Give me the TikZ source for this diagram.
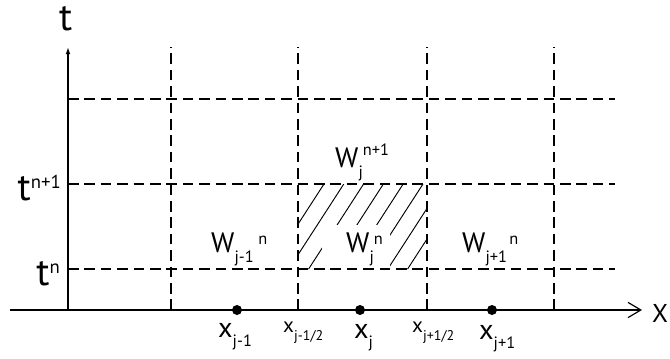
\documentclass[tikz,border=0pt]{standalone}
\usepackage{fontspec}
\setmainfont{PT Sans}
\usetikzlibrary{arrows.meta}
% scripts set beside the main letter
\newcommand{\lowtxt}[2][9pt]{\raisebox{-#1}{\fontsize{14}{16}\selectfont #2}}
\newcommand{\hightxt}[2][6pt]{\raisebox{#1}{\fontsize{14}{16}\selectfont #2}}
\newcommand{\tsup}[1]{\raisebox{10pt}{\fontsize{16}{18}\selectfont #1}}
\begin{document}
\begin{tikzpicture}[x=0.03cm,y=0.03cm,
  grid/.style={dash pattern=on 9pt off 5pt,line width=1.1pt},
  axis/.style={line width=1.4pt},
  hatch/.style={line width=0.8pt},
  dot/.style={circle,fill,inner sep=0pt,minimum size=0.3cm},
  lbl/.style={anchor=base west,inner sep=0pt,font=\fontsize{24}{28}\selectfont},
  big/.style={inner sep=0pt,font=\fontsize{33}{36}\selectfont}]
\useasboundingbox (0,0) rectangle (670,358);
% hatched cell
\begin{scope}
\clip (298,89) rectangle (427,174);
\foreach \k in {0,...,7}
  \draw[hatch] ({269+19.8*\k},89) -- ({324+19.8*\k},174);
\end{scope}
\fill[white] (322,89) rectangle (390,133);
% grid
\foreach \x in {171,298,427,554} \draw[grid] (\x,48) -- (\x,311);
\foreach \y in {89,174,259} \draw[grid] (68,\y) -- (615,\y);
% axes
\coordinate (xs) at (10,48);
\coordinate (xe) at (642,48);
\coordinate (o) at (68,48);
\coordinate (ye) at (68,311);
\draw[axis,-{Straight Barb[length=11pt,width=13pt,line width=1pt]}] (xs) -- (xe);
\draw[axis,-{Latex[length=6pt,width=4pt]}] (o) -- (ye);
\node[big,anchor=base west] (tlab) at (59,327) {t};
\node[lbl,font=\fontsize{22}{26}\selectfont] (xlab) at (652,36) {X};
\node[big,anchor=base east] (tnp) at (61,158) {t\tsup{n+1}};
\node[big,anchor=base east] (tn) at (60,73) {t\tsup{n}};
% cell centres and faces
\node[dot] (pjm) at (237,48) {};
\node[dot] (pj) at (360,48) {};
\node[dot] (pjp) at (492,48) {};
\node[lbl] (xjm) at (218,21) {x\lowtxt[8pt]{j-1}};
\node[lbl] (xj) at (354,20) {x\lowtxt[8pt]{j}};
\node[lbl] (xjp) at (479,19) {x\lowtxt[8pt]{j+1}};
\node[lbl,font=\fontsize{18}{21}\selectfont] (xhm) at (283,26) {x\lowtxt[7pt]{\fontsize{12}{14}\selectfont j-1/2}};
\node[lbl,font=\fontsize{18}{21}\selectfont] (xhp) at (412,26) {x\lowtxt[7pt]{\fontsize{12}{14}\selectfont j+1/2}};
% cell averages
\node[lbl] (wjm) at (211,106) {W\lowtxt{j-1}\kern4pt\hightxt{n}};
\node[lbl] (wj) at (346,106) {W\lowtxt{j}\hightxt{n}};
\node[lbl] (wjp) at (462,106) {W\lowtxt{j+1}\kern2pt\hightxt{n}};
\node[lbl] (wjn) at (335,191) {W\lowtxt{j}\hightxt[10pt]{n+1}};
\end{tikzpicture}
\end{document}
